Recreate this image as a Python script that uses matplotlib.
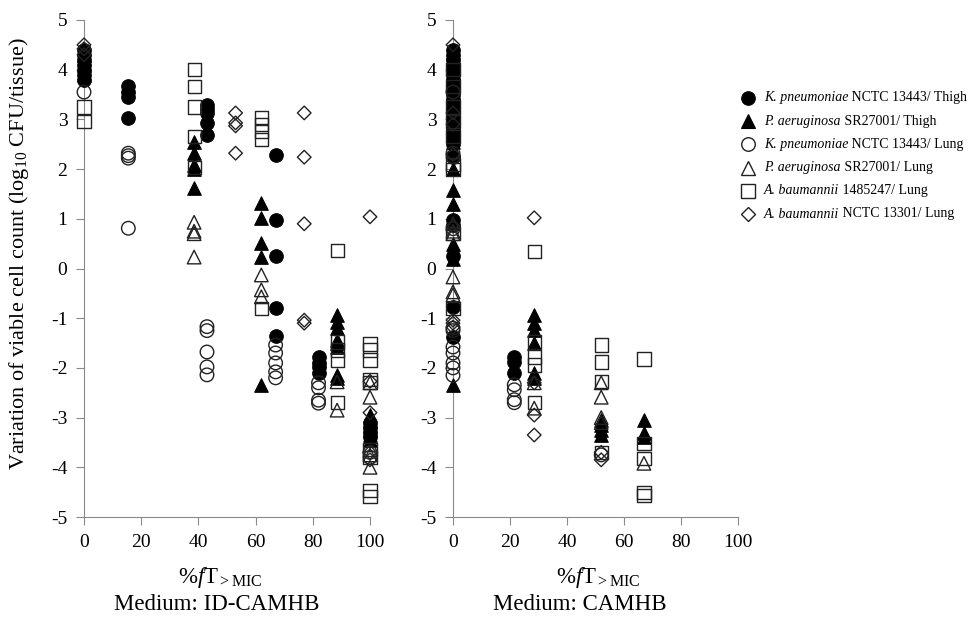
import matplotlib
matplotlib.use("Agg")
import matplotlib.pyplot as plt
from matplotlib.lines import Line2D

plt.rcParams['font.family'] = ['Liberation Serif', 'DejaVu Serif']
plt.rcParams['mathtext.fontset'] = 'custom'
plt.rcParams['mathtext.rm'] = 'Liberation Serif'
plt.rcParams['mathtext.it'] = 'Liberation Serif:italic'

# %fT>MIC -> list of log10 changes, medium ID-CAMHB
kp_thigh_id = {0: [4.4, 4.3, 4.2, 4.1, 4.0, 3.9, 3.8],
               15.5: [3.67, 3.55, 3.45, 3.03],
               43: [3.29, 3.2, 3.13, 2.93, 2.69],
               67: [2.28, 0.98, 0.25, -0.8, -1.36],
               82: [-1.78, -1.9, -1.98, -2.1],
               100: [-3.1, -3.2, -3.3, -3.4]}
pa_thigh_id = {0: [4.3, 4.1, 3.9],
               38.5: [2.55, 2.32, 2.08, 2.0, 1.62],
               62: [1.32, 1.02, 0.51, 0.23, -2.34],
               88.5: [-0.94, -1.08, -1.2, -1.44, -1.5, -1.58, -2.14, -2.2],
               100: [-2.95, -3.05, -3.15, -3.25, -3.35, -3.45]}
kp_lung_id = {0: [3.55],
              15.5: [2.32, 2.27, 2.22, 0.81],
              43: [-1.17, -1.25, -1.68, -1.98, -2.14],
              67: [-1.54, -1.7, -1.9, -2.08, -2.2],
              82: [-2.3, -2.4, -2.65, -2.71],
              100: [-3.7, -3.8]}
pa_lung_id = {38.5: [0.93, 0.75, 0.7, 0.23],
              62: [-0.13, -0.43, -0.57],
              88.5: [-2.28, -2.85],
              100: [-2.3, -2.59, -3.75, -4.0]}
ab1485_lung_id = {0: [3.25, 2.95],
                  38.5: [4.01, 3.67, 3.25, 2.65, 2.04],
                  62: [3.03, 2.89, 2.75, 2.59, -0.8],
                  88.5: [0.37, -1.48, -1.64, -1.84, -2.69],
                  100: [-1.52, -1.64, -1.84, -2.24, -2.3, -3.65, -3.8, -4.46, -4.58]}
ab13301_lung_id = {0: [4.5, 4.42, 4.3],
                   53: [3.13, 2.93, 2.87, 2.32],
                   77: [3.13, 2.24, 0.9, -1.04, -1.1],
                   100: [1.04, -2.27, -2.9, -3.7, -3.85]}

# medium CAMHB
kp_thigh_ca = {0: [4.4, 4.3, 4.2, 4.1, 4.0, 3.9, 3.8, 3.7, 3.6, 3.5, 3.4, 3.3, 3.2, 3.1,
                   3.0, 2.9, 2.8, 2.7, 2.6, 2.5, 2.25, 0.98, 0.87, 0.25, -0.78, -1.38],
               21.5: [-1.78, -1.88, -2.1]}
pa_thigh_ca = {0: [4.35, 4.15, 3.95, 3.75, 3.55, 3.35, 3.15, 2.95, 2.75, 2.55, 2.4, 2.0,
                   1.58, 1.3, 0.98, 0.5, 0.2, -2.34],
               28.5: [-0.94, -1.1, -1.24, -1.5, -2.1, -2.2],
               52: [-3.05, -3.15, -3.25, -3.35],
               67: [-3.05, -3.3, -3.4]}
kp_lung_ca = {0: [3.55, 2.32, 2.25, 0.8, -1.2, -1.25, -1.58, -1.7, -1.9, -2.0, -2.15],
              21.5: [-2.34, -2.44, -2.64, -2.7],
              52: [-3.75]}
pa_lung_ca = {0: [0.9, 0.75, 0.7, -0.17, -0.47, -0.53],
              28.5: [-2.3, -2.81],
              52: [-2.3, -2.59, -3.0, -3.1],
              67: [-3.92]}
ab1485_lung_ca = {0: [4.0, 3.67, 3.25, 2.95, 2.65, 2.1, 2.0, 0.7, -0.8],
                  28.5: [0.35, -1.48, -1.78, -1.94, -2.69],
                  52: [-1.54, -1.88, -2.28, -3.7],
                  67: [-1.82, -3.52, -3.82, -4.5, -4.56]}
ab13301_lung_ca = {0: [4.5, 3.13, 2.9, 2.3, 0.85, -1.04, -1.1, -1.18],
                   28.5: [1.02, -2.3, -2.95, -3.35],
                   52: [-3.7, -3.85]}

species = ["K. pneumoniae", "P. aeruginosa", "K. pneumoniae",
           "P. aeruginosa", "A. baumannii", "A. baumannii"]
strains = [" NCTC 13443/ Thigh", " SR27001/ Thigh", " NCTC 13443/ Lung",
           " SR27001/ Lung", " 1485247/ Lung", " NCTC 13301/ Lung"]
markers = ['o', '^', 'o', '^', 's', 'D']
filled = [True, True, False, False, False, False]
sizes = [95, 95, 95, 95, 90, 48]

series_id = [kp_thigh_id, pa_thigh_id, kp_lung_id, pa_lung_id, ab1485_lung_id, ab13301_lung_id]
series_ca = [kp_thigh_ca, pa_thigh_ca, kp_lung_ca, pa_lung_ca, ab1485_lung_ca, ab13301_lung_ca]


def flatten(d):
    xs, ys = [], []
    for k, v in d.items():
        xs += [k] * len(v)
        ys += v
    return xs, ys


fig = plt.figure(figsize=(9.72, 6.18), dpi=100)
ax1 = fig.add_axes([84/972, 1-517/618, 286/972, 497/618])
ax2 = fig.add_axes([453/972, 1-517/618, 285/972, 497/618])

gray = '#8a8a8a'
for ax, series in [(ax1, series_id), (ax2, series_ca)]:
    for d, m, f, s in zip(series, markers, filled, sizes):
        xs, ys = flatten(d)
        if f:
            ax.scatter(xs, ys, marker=m, s=s, c='black', edgecolors='black',
                       linewidths=0.8, clip_on=False, zorder=3)
        else:
            ax.scatter(xs, ys, marker=m, s=s, facecolors='none', edgecolors='#222222',
                       linewidths=1.0, clip_on=False, zorder=3)
    ax.set_xlim(0, 100)
    ax.set_ylim(-5, 5)
    ax.set_xticks(range(0, 101, 20))
    ax.set_yticks(range(-5, 6))
    ax.set_yticklabels([str(v) for v in range(-5, 6)])
    for sp in ['top', 'right']:
        ax.spines[sp].set_visible(False)
    for sp in ['left', 'bottom']:
        ax.spines[sp].set_color(gray)
    ax.tick_params(direction='out', length=6, color=gray, labelsize=14, pad=6)

ax1.set_ylabel(r"Variation of viable cell count (log$_{10}$ CFU/tissue)", fontsize=16)
ax1.yaxis.set_label_coords(-0.185, 0.53)

for cx, cy, txt in [(220, 578, r"%$\mathit{f}$T$_{\mathrm{>MIC}}$"), (217, 605, "Medium: ID-CAMHB"),
                    (598, 578, r"%$\mathit{f}$T$_{\mathrm{>MIC}}$"), (580, 605, "Medium: CAMHB")]:
    fig.text(cx/972, 1-cy/618, txt, ha='center', va='center', fontsize=16.5)

# legend drawn row by row so the species name can be italic
fig.canvas.draw()
rend = fig.canvas.get_renderer()
for i in range(6):
    yy = 1 - (98 + 23.2*i)/618
    ms = sizes[i] ** 0.5
    fig.add_artist(Line2D([748/972], [yy], marker=markers[i], markersize=ms, linestyle='none',
                          markerfacecolor='black' if filled[i] else 'none',
                          markeredgecolor='black' if filled[i] else '#222222',
                          markeredgewidth=0.8 if filled[i] else 1.0,
                          transform=fig.transFigure))
    t1 = fig.text(764/972, yy, species[i], style='italic', va='center', fontsize=10)
    bb = t1.get_window_extent(rend)
    fig.text(bb.x1/972, yy, strains[i], va='center', fontsize=10)

fig.savefig("out.png", dpi=100)
